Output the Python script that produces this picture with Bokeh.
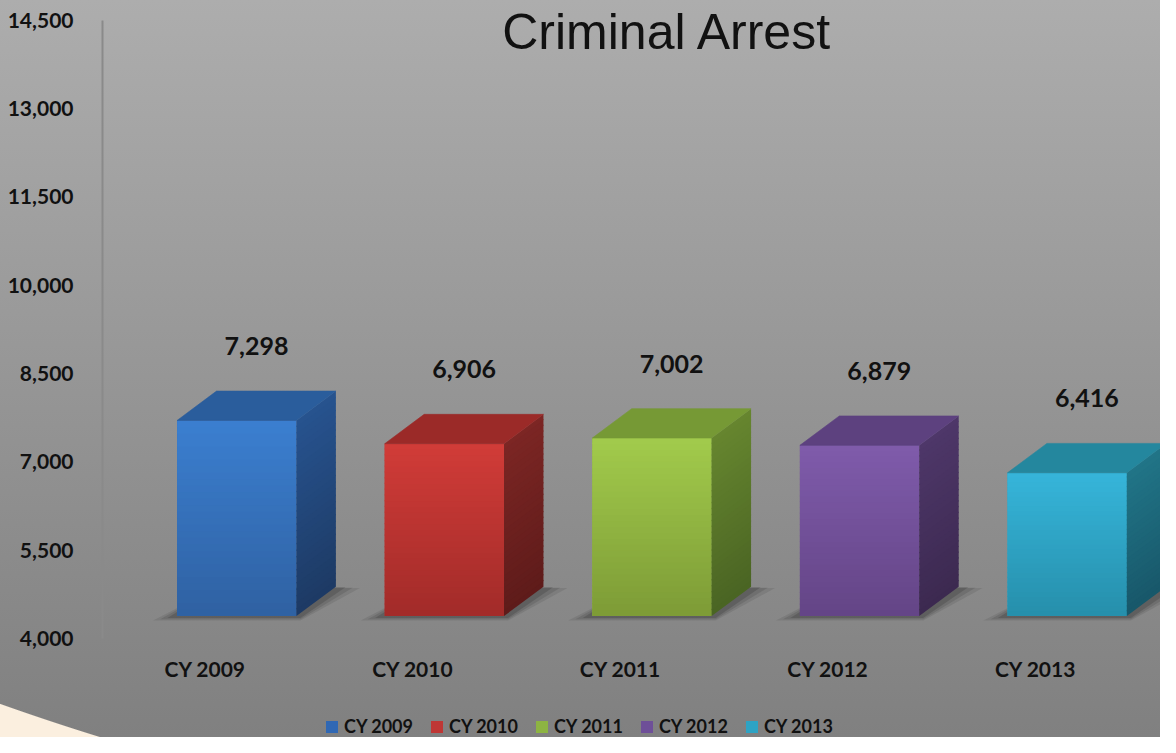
import numpy as np
from bokeh.plotting import figure
from bokeh.models import (Range1d, LinearAxis, FixedTicker, NumeralTickFormatter,
                          Legend, LegendItem, Label)
from bokeh.core.properties import value
from bokeh.embed import file_html
from bokeh.resources import INLINE

# ---------------- data ----------------
categories = ["CY 2009", "CY 2010", "CY 2011", "CY 2012", "CY 2013"]
arrests = [7298, 6906, 7002, 6879, 6416]
y_ticks = [4000, 5500, 7000, 8500, 10000, 11500, 13000, 14500]
title_text = "Criminal Arrest"

# ---------------- styles ----------------
front_top = ["#3b7fd0", "#d13c38", "#a2cb4c", "#7f5bab", "#36b5da"]
front_bot = ["#2f61a2", "#a22b29", "#7d9b36", "#644586", "#268fab"]
top_col = ["#2a5d9c", "#9b2a28", "#769935", "#5d417f", "#24879e"]
side_top = ["#27538f", "#7c2624", "#66862f", "#4e3769", "#217588"]
side_bot = ["#1d3a64", "#5e1b1a", "#4a6423", "#3c2950", "#185769"]
legend_col = ["#3068b4", "#bf3735", "#8db442", "#6e4f98", "#2ea3c4"]

FONT = "Lato"
W, H = 1160, 737
LEFT = 102
BASE = 4000

# geometry (in data units)
x_px = 1 / 207.6          # x units per pixel
yb_px = 1 / 0.05931       # bar-range units per pixel
OFF = -0.1354             # front-left offset from category centre
BW = 0.5748               # front width
DX = 40 * 0.986 * x_px    # depth x
DY = 29.4 * yb_px         # depth y


def mix(c1, c2, t):
    a = np.array([int(c1[i:i + 2], 16) for i in (1, 3, 5)], float)
    b = np.array([int(c2[i:i + 2], 16) for i in (1, 3, 5)], float)
    c = a + (b - a) * t
    return "#%02x%02x%02x" % tuple(int(round(v)) for v in c)


p = figure(width=W, height=H, output_backend="svg", toolbar_location=None,
           x_range=Range1d(-0.4947, 4.6016), y_range=Range1d(2323, 14833),
           x_axis_type=None,
           min_border_left=LEFT, min_border_right=0, min_border_top=0,
           min_border_bottom=0)
p.extra_y_ranges = {"bars": Range1d(1953, 14379)}
p.outline_line_color = None
p.background_fill_alpha = 0
p.border_fill_alpha = 0
p.ygrid.visible = False
p.styles = {
    "background": "radial-gradient(circle 2500px at 838px -1651px, rgba(0,0,0,0) 2499px, #fbefdf 2500px),"
                  " linear-gradient(to bottom, #adadad 0%, #808080 100%)"
}

# y axis
ya = p.yaxis[0]
ya.ticker = FixedTicker(ticks=y_ticks)
ya.formatter = NumeralTickFormatter(format="0,0")
ya.bounds = (y_ticks[0], y_ticks[-1])
ya.axis_line_color = "#8a8a8a"
ya.axis_line_width = 2
ya.major_tick_line_color = None
ya.minor_tick_line_color = None
ya.major_label_standoff = 23
ya.major_label_text_font = FONT
ya.major_label_text_font_style = "bold"
ya.major_label_text_font_size = "21px"
ya.major_label_text_color = "#111111"

# x axis (categories)
xa = LinearAxis(ticker=FixedTicker(ticks=list(range(len(categories)))),
                major_label_overrides={i: c for i, c in enumerate(categories)},
                fixed_location=3875)
xa.axis_line_color = None
xa.major_tick_line_color = None
xa.minor_tick_line_color = None
xa.major_label_standoff = 4
xa.major_label_text_font = FONT
xa.major_label_text_font_style = "bold"
xa.major_label_text_font_size = "21px"
xa.major_label_text_color = "#111111"
p.add_layout(xa, "below")

idx = np.arange(len(categories), dtype=float)
vals = np.array(arrests, dtype=float)
fl = idx + OFF
fr = fl + BW

# soft shadows on the floor
for spread, alpha in ((1.0, 0.12), (0.7, 0.16), (0.4, 0.22)):
    sx, sy = 24 * spread * x_px, 4.5 * spread * yb_px
    xs = [[a - sx, b + 4 * x_px, b + DX + sx, a + DX] for a, b in zip(fl, fr)]
    ys = [[BASE - sy, BASE - sy, BASE + DY - sy * 0.3, BASE + DY - sy * 0.3] for _ in fl]
    p.patches(xs, ys, fill_color="#2a2a2a", fill_alpha=alpha, line_color=None,
              y_range_name="bars")

# base front faces (used by the legend)
base_renderer = p.quad(left=fl, right=fr, bottom=BASE, top=vals,
                       fill_color=legend_col, line_color=None, y_range_name="bars")

# gradient front & side faces (slices overlap slightly to avoid seams)
N = 30
EPS = 1.2 * yb_px
qx0, qx1, qb, qt, qc = [], [], [], [], []
sxs, sys, scs = [], [], []
for i in range(len(categories)):
    v = vals[i]
    for k in range(N):
        y0 = BASE + (v - BASE) * k / N
        y1 = BASE + (v - BASE) * (k + 1) / N
        y1e = min(y1 + EPS, v)
        t = (k + 0.5) / N
        qx0.append(fl[i]); qx1.append(fr[i]); qb.append(y0); qt.append(y1e)
        qc.append(mix(front_bot[i], front_top[i], t))
        sxs.append([fr[i], fr[i] + DX, fr[i] + DX, fr[i]])
        sys.append([y0, y0 + DY, y1e + DY, y1e])
        scs.append(mix(side_bot[i], side_top[i], t))
p.quad(left=qx0, right=qx1, bottom=qb, top=qt, fill_color=qc, line_color=None,
       y_range_name="bars")
p.patches(sxs, sys, fill_color=scs, line_color=None, y_range_name="bars")

# top faces
txs = [[a, b, b + DX, a + DX] for a, b in zip(fl, fr)]
tys = [[v, v, v + DY, v + DY] for v in vals]
p.patches(txs, tys, fill_color=top_col, line_color=top_col, line_width=0.6,
          y_range_name="bars")

# value labels
p.text(x=fl + (BW + DX) / 2, y=vals + DY, text=[f"{int(v):,}" for v in arrests],
       y_range_name="bars", y_offset=-45, text_align="center", text_baseline="middle",
       text_font=value(FONT), text_font_style="bold", text_font_size="25px",
       text_color="#111111")

# title
p.add_layout(Label(x=2.227, y=14290, text=title_text, text_align="center",
                   text_baseline="middle", text_font="Liberation Sans",
                   text_font_size="50px", text_color="#111111"))

# legend
items = [LegendItem(label=c, renderers=[base_renderer], index=i)
         for i, c in enumerate(categories)]
legend = Legend(items=items, orientation="horizontal", location=(222, 0),
                background_fill_alpha=0, border_line_alpha=0, padding=0, margin=0,
                spacing=16, glyph_width=15, glyph_height=15, label_standoff=5,
                label_height=16, label_text_font=FONT, label_text_font_style="bold",
                label_text_font_size="18px", label_text_color="#111111")
p.add_layout(legend)

open("out.html", "w").write(file_html(p, INLINE))
